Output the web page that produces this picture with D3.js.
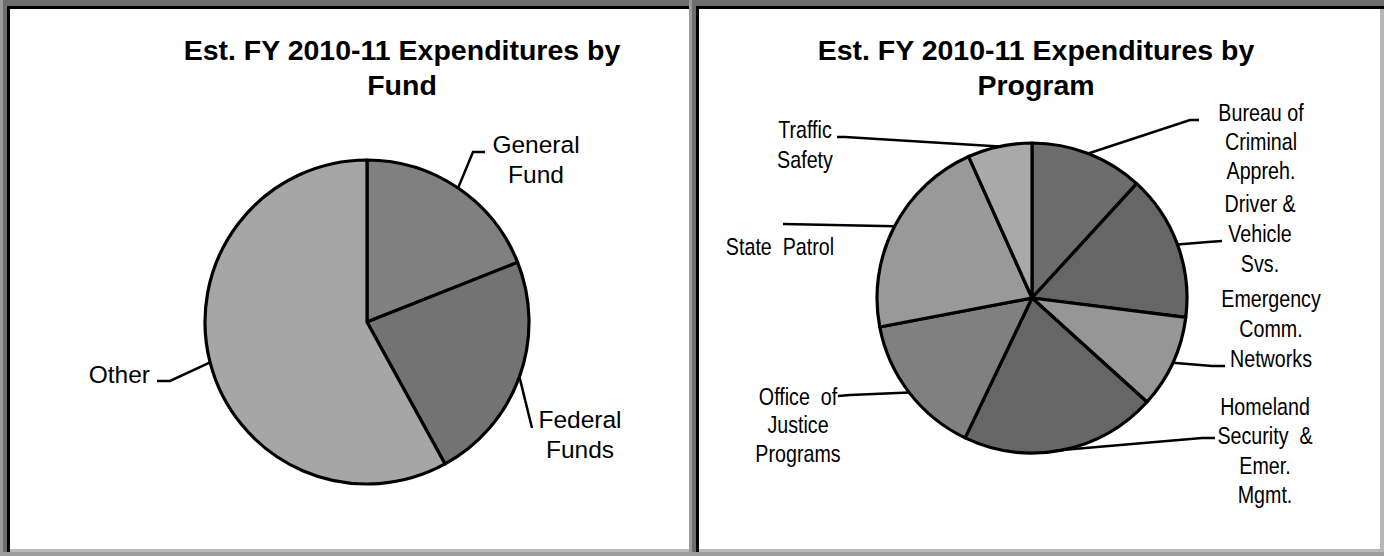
<!DOCTYPE html>
<html>
<head>
<meta charset="utf-8">
<script src="https://cdn.jsdelivr.net/npm/d3@7"></script>
<style>
  body { margin: 0; background: #fff; }
  svg { display: block; }
  .title { font-family: "Liberation Sans", Arial, sans-serif; font-weight: bold; font-size: 28.5px; }
  .lbl-fund { font-family: "Liberation Sans", Arial, sans-serif; font-size: 24.5px; }
  .lbl-prog { font-family: "Liberation Sans", Arial, sans-serif; font-size: 24px; }
</style>
</head>
<body>
<svg width="1384" height="556"></svg>
<script>
// data (shares in percent)
const fundNames = ["General Fund", "Federal Funds", "Other"];
const fundValues = [19, 23, 58];
const fundLines = [["General", "Fund"], ["Federal", "Funds"], ["Other"]];

const programNames = ["Bureau of Criminal Appreh.", "Driver & Vehicle Svs.", "Emergency Comm. Networks",
    "Homeland Security & Emer. Mgmt.", "Office of Justice Programs", "State Patrol", "Traffic Safety"];
const programValues = [11.8, 15.2, 9.7, 20.4, 14.9, 21.3, 6.7];
const programLines = [["Bureau of", "Criminal", "Appreh."], ["Driver &", "Vehicle", "Svs."],
    ["Emergency", "Comm.", "Networks"], ["Homeland", "Security  &", "Emer.", "Mgmt."],
    ["Office  of", "Justice", "Programs"], ["State  Patrol"], ["Traffic", "Safety"]];

const titles = [["Est. FY 2010-11 Expenditures by", "Fund"], ["Est. FY 2010-11 Expenditures by", "Program"]];

const svg = d3.select("svg");

// frames
function frame(x0, x1) {
    svg.append("rect").attr("x", x0).attr("y", 0).attr("width", x1 - x0).attr("height", 556).attr("fill", "#9c9c9c");
    svg.append("rect").attr("x", x0 + 3).attr("y", 0).attr("width", x1 - x0 - 3).attr("height", 552).attr("fill", "#6e6e6e");
    svg.append("rect").attr("x", x0 + 7).attr("y", 6).attr("width", x1 - x0 - 7).attr("height", 546).attr("fill", "#000");
    svg.append("rect").attr("x", x0 + 10).attr("y", 9).attr("width", x1 - x0 - 10).attr("height", 543).attr("fill", "#b8b8b8");
    svg.append("rect").attr("x", x0 + 10).attr("y", 9).attr("width", x1 - x0 - 14).attr("height", 540).attr("fill", "#fff");
}
frame(0, 693);
frame(689, 1384);

const panels = [
    {
        values: fundValues, lines: fundLines, title: titles[0], cls: "lbl-fund", squeeze: 1,
        cx: 367, cy: 322, r: 162, titleX: 402,
        colors: ["#808080", "#737373", "#a6a6a6"],
        leaders: [[[473, 152], [485, 152]], [[532, 428]], [[170, 381], [157, 381]]],
        labels: [{x: 536, y: 153, dy: 30}, {x: 580, y: 428, dy: 30}, {x: 150, y: 383, dy: 30, anchor: "end"}]
    },
    {
        values: programValues, lines: programLines, title: titles[1], cls: "lbl-prog", squeeze: 0.82,
        cx: 1032, cy: 298, r: 155, titleX: 1036,
        colors: ["#6c6c6c", "#666666", "#969696", "#666666", "#808080", "#999999", "#a9a9a9"],
        leaders: [[[1190, 120], [1199, 120]], [[1208, 242], [1222, 241]], [[1212, 366], [1225, 366]],
            [[1202, 438], [1215, 438]], [[850, 395], [838, 396]], [[783, 224]], [[845, 137], [837, 137]]],
        labels: [{x: 1261, y: 121, dy: 29}, {x: 1260, y: 212, dy: 30}, {x: 1271, y: 307, dy: 30},
            {x: 1265, y: 415, dy: 29.3}, {x: 798, y: 405, dy: 28.5}, {x: 780, y: 255, dy: 30}, {x: 805, y: 138, dy: 30}]
    }
];

panels.forEach(p => {
    const g = svg.append("g");

    g.append("text").attr("class", "title").attr("text-anchor", "middle")
        .selectAll("tspan").data(p.title).join("tspan")
        .attr("x", p.titleX).attr("y", (d, i) => 60 + i * 35).text(d => d);

    const arcs = d3.pie().sort(null).value(d => d)(p.values);
    const arc = d3.arc().innerRadius(0).outerRadius(p.r);

    g.append("g").attr("transform", `translate(${p.cx},${p.cy})`)
        .selectAll("path").data(arcs).join("path")
        .attr("d", arc)
        .attr("fill", (d, i) => p.colors[i])
        .attr("stroke", "#000").attr("stroke-width", 3.2).attr("stroke-linejoin", "round");

    // leader lines start on the rim at the slice's middle angle
    const line = d3.line();
    g.selectAll(".leader").data(arcs).join("path")
        .attr("class", "leader")
        .attr("fill", "none").attr("stroke", "#000").attr("stroke-width", 2.5)
        .attr("d", (d, i) => {
            const a = (d.startAngle + d.endAngle) / 2;
            const start = [p.cx + p.r * Math.sin(a), p.cy - p.r * Math.cos(a)];
            return line([start].concat(p.leaders[i]));
        });

    // labels; the program chart uses a narrow face, so squeeze horizontally
    g.selectAll(".lbl").data(p.lines).join("text")
        .attr("class", "lbl " + p.cls)
        .attr("text-anchor", (d, i) => p.labels[i].anchor || "middle")
        .attr("transform", (d, i) => `translate(${p.labels[i].x},0) scale(${p.squeeze},1)`)
        .style("white-space", "pre")
        .each(function(d, i) {
            const L = p.labels[i];
            d3.select(this).selectAll("tspan").data(d).join("tspan")
                .attr("x", 0).attr("y", (t, j) => L.y + j * L.dy).text(t => t);
        });
});
</script>
</body>
</html>
